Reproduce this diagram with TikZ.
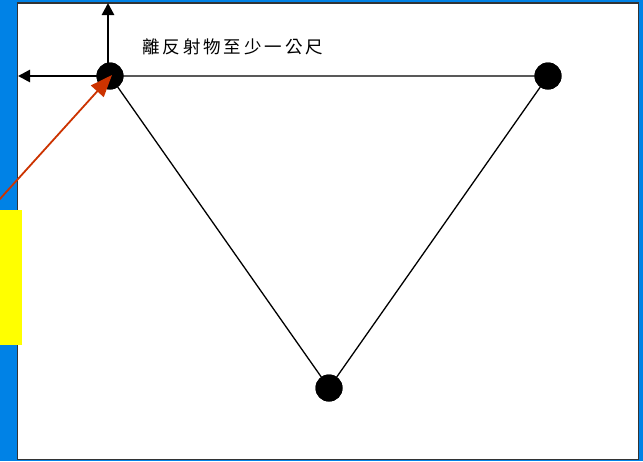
\documentclass[tikz,border=0pt]{standalone}
\usepackage{fontspec}
\usepackage{xcolor}
\usepackage{tikz}
\usetikzlibrary{
  arrows.meta,
  positioning
}
\newfontfamily\cjkfont{Noto Sans CJK TC}
\definecolor{bgblue}{RGB}{0,130,230}
\definecolor{markyellow}{RGB}{255,255,0}
\definecolor{pointred}{RGB}{204,51,0}

\begin{document}
\begin{tikzpicture}[
  x=1pt,y=-1pt,
  dot/.style ={circle,fill=black,inner sep=0pt,minimum size=27pt},
  edge/.style={line width=1.3pt},
  axis/.style={-{Triangle[length=12pt,width=12pt]},line width=2.6pt},
  ptr/.style ={-{Triangle[length=22pt,width=17pt]},line width=1.8pt,draw=pointred,fill=pointred},
]
\useasboundingbox (0,0) rectangle (643,461);
\fill[bgblue] (0,0) rectangle (643,461);
\draw[fill=white,draw=black!80,line width=1.6pt] (17.5,3) rectangle (638.5,459.5);
\fill[markyellow] (0,210) rectangle (21.5,345);

\node[dot] (p1) at (110,76)  {};
\node[dot] (p2) at (548,76)  {};
\node[dot] (p3) at (329,388) {};
\coordinate (o)  at (108,76);
\coordinate (up) at (108,3);
\coordinate (lf) at (18,76);
\coordinate (src) at (-1,200);

\draw[edge] (p1.center) -- (p2.center) -- (p3.center) -- (p1.center);
\node[dot] at (p1) {};
\node[dot] at (p2) {};
\node[dot] at (p3) {};

\draw[axis] (o) -- (up);
\draw[axis] (o) -- (lf);
\draw[ptr] (src) -- ([shift={(2,-1)}]p1.center);

\node[font=\cjkfont\fontsize{17.5pt}{17.5pt}\selectfont,anchor=west,inner sep=0pt] (lbl) at (142,47)
  {離\,反\,射\,物\,至\,少\,一\,公\,尺};
\end{tikzpicture}
\end{document}
